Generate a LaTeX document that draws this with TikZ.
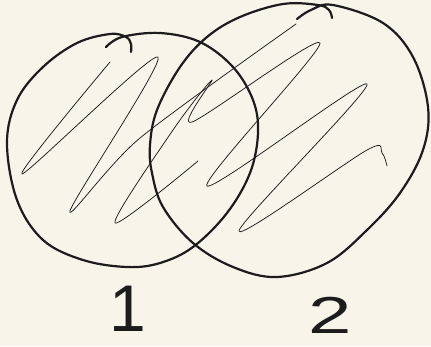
\documentclass[tikz,border=0pt]{standalone}
\usepackage{fontspec}
\usepackage{tikz}
\usetikzlibrary{positioning}
\newfontfamily\digitfont{Liberation Sans}
\definecolor{paper}{HTML}{F7F5EA}
\definecolor{ink}{HTML}{1C1C1C}

\begin{document}
\begin{tikzpicture}[x=1pt, y=-1pt,
    ring/.style={draw=ink, line width=2.2pt, line cap=round, line join=round},
    scribble/.style={draw=ink, line width=0.75pt, line cap=round, line join=round},
    digit/.style={text=ink, inner sep=0pt, font=\digitfont}]
  % Paper
  \fill[paper] (0,0) rectangle (431,346);
  \useasboundingbox (0,0) rectangle (431,346);
  % Circle 1
  \draw[ring] plot[smooth, tension=0.6] coordinates {
    (106,47) (122,37) (160,33) (200,42) (233,67) (253,100) (258,133)
    (250,173) (227,213) (193,247) (160,263) (127,267) (83,260) (43,240)
    (17,200) (7,143) (17,100) (43,67) (77,43) (110,34) (126,37)
    (131,44) (131,52)};
  % Circle 2
  \draw[ring] plot[smooth, tension=0.6] coordinates {
    (297,19) (311,10) (333,5) (383,23) (413,57) (428,107) (423,150)
    (400,193) (367,230) (327,263) (277,277) (233,267) (193,243)
    (163,207) (152,173) (150,145) (157,110) (180,67) (207,37)
    (240,17) (283,4) (318,5) (329,10) (332,18)};
  % Scribbles
  \draw[scribble] plot[smooth, tension=0.5] coordinates {
    (110,62) (22,174) (158,57) (70,211) (140,138) (296,24)};
  \draw[scribble] plot[smooth, tension=0.5] coordinates {
    (198,161) (115,223) (173,130) (212,80) (192,122) (320,43)
    (207,186) (367,84) (239,231) (367,150) (382,153) (387,166)};
  % Labels
  \node[digit, font=\digitfont\fontsize{66}{66}\selectfont] (one) at (128,309) {1};
  \node[digit, font=\digitfont\fontsize{52}{52}\selectfont,
        xscale=1.5, transform shape] (two) at (330,315) {2};
\end{tikzpicture}
\end{document}
